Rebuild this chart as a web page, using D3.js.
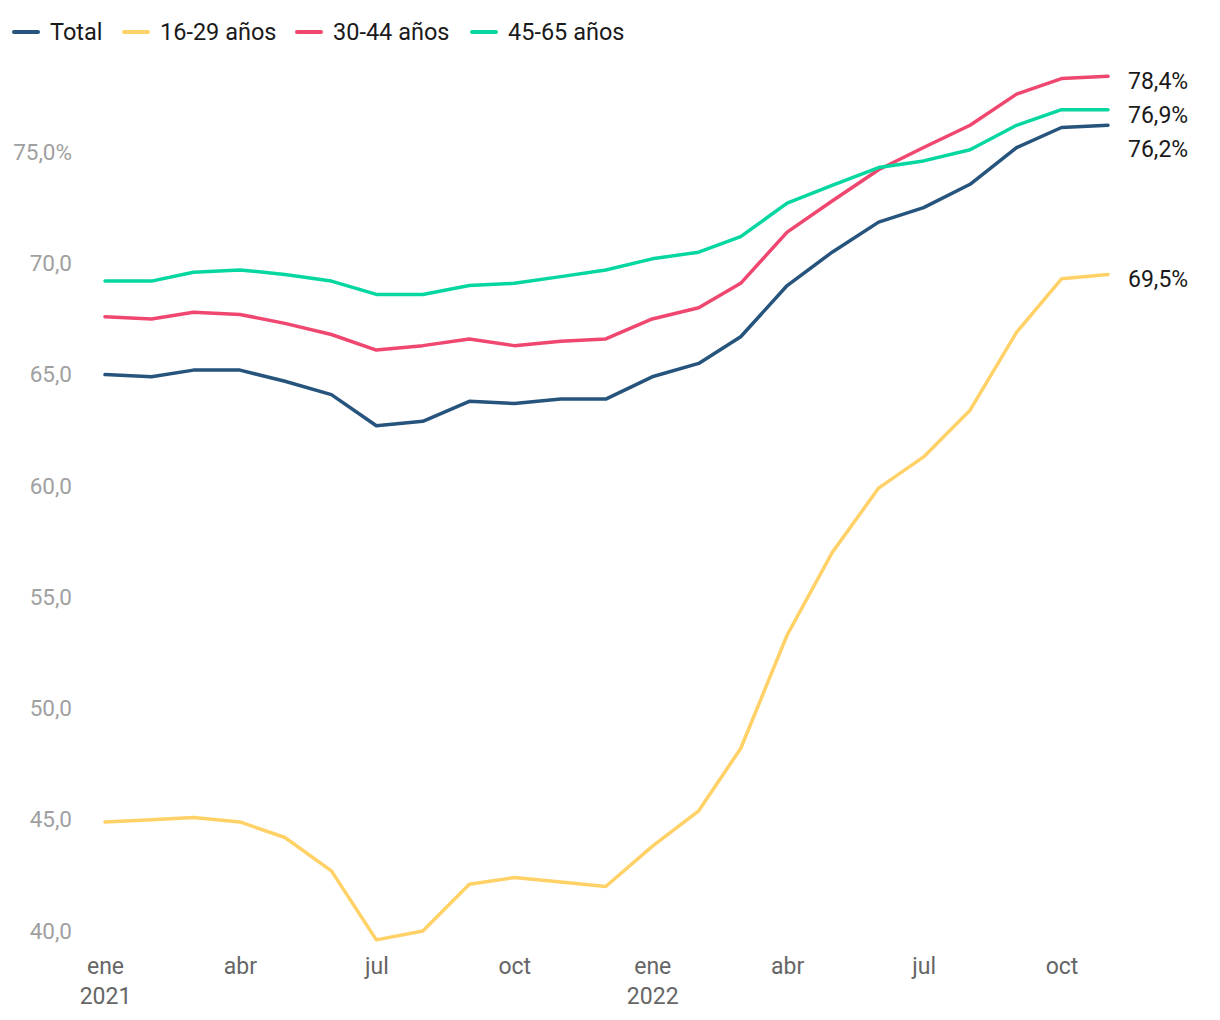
<!DOCTYPE html>
<html>
<head>
<meta charset="utf-8">
<script src="https://cdn.jsdelivr.net/npm/d3@7"></script>
<style>
    body { margin: 0; background: #fff; }
    svg text { font-family: Roboto, "Noto Sans", sans-serif; }
</style>
</head>
<body>
<div id="chart"></div>
<script>
// meses de ene 2021 a nov 2022
const months = ["2021-01", "2021-02", "2021-03", "2021-04", "2021-05", "2021-06", "2021-07", "2021-08",
    "2021-09", "2021-10", "2021-11", "2021-12", "2022-01", "2022-02", "2022-03", "2022-04",
    "2022-05", "2022-06", "2022-07", "2022-08", "2022-09", "2022-10", "2022-11"];

const total = [65.0, 64.9, 65.2, 65.2, 64.7, 64.1, 62.7, 62.9, 63.8, 63.7, 63.9, 63.9,
    64.9, 65.5, 66.7, 69.0, 70.5, 71.85, 72.5, 73.55, 75.2, 76.1, 76.2];
const age16to29 = [44.9, 45.0, 45.1, 44.9, 44.2, 42.7, 39.6, 40.0, 42.1, 42.4, 42.2, 42.0,
    43.8, 45.4, 48.2, 53.3, 57.0, 59.9, 61.3, 63.4, 66.9, 69.3, 69.5];
const age30to44 = [67.6, 67.5, 67.8, 67.7, 67.3, 66.8, 66.1, 66.3, 66.6, 66.3, 66.5, 66.6,
    67.5, 68.0, 69.1, 71.4, 72.8, 74.2, 75.2, 76.2, 77.6, 78.3, 78.4];
const age45to65 = [69.2, 69.2, 69.6, 69.7, 69.5, 69.2, 68.6, 68.6, 69.0, 69.1, 69.4, 69.7,
    70.2, 70.5, 71.2, 72.7, 73.5, 74.3, 74.6, 75.1, 76.2, 76.9, 76.9];

const seriesNames = ["Total", "16-29 años", "30-44 años", "45-65 años"];
const seriesColors = ["#26547c", "#ffd166", "#ef476f", "#06d6a0"];
const yTicks = [40, 45, 50, 55, 60, 65, 70, 75];
const monthNames = ["ene", "feb", "mar", "abr", "may", "jun", "jul", "ago", "sep", "oct", "nov", "dic"];

const W = 1220, H = 1020;
const parse = d3.timeParse("%Y-%m");
const dates = months.map(parse);
const comma = v => d3.format(".1f")(v).replace(".", ",");

const svg = d3.select("#chart").append("svg")
    .attr("width", W)
    .attr("height", H);

const x = d3.scaleTime()
    .domain(d3.extent(dates))
    .range([105, 1108]);

const y = d3.scaleLinear()
    .domain([40, 75])
    .range([931, 152]);

// eje y
const yAxis = svg.append("g")
    .attr("transform", "translate(72,0)")
    .call(d3.axisLeft(y).tickValues(yTicks).tickSize(0).tickPadding(0)
        .tickFormat(d => comma(d) + (d === 75 ? "%" : "")));
yAxis.select(".domain").remove();
yAxis.selectAll("text")
    .style("font-family", "Roboto, sans-serif")
    .style("font-size", "22.5px")
    .attr("fill", "#a0a0a0");

// eje x
const xTickDates = dates.filter(d => d.getMonth() % 3 === 0);
const xAxis = svg.append("g")
    .attr("transform", "translate(0,945)")
    .call(d3.axisBottom(x).tickValues(xTickDates).tickSize(0).tickPadding(0).tickFormat(""));
xAxis.select(".domain").remove();
xAxis.selectAll(".tick").each(function (d) {
    const t = d3.select(this).append("text")
        .attr("text-anchor", "middle")
        .attr("fill", "#666")
        .style("font-size", "23px");
    t.append("tspan").attr("x", 0).attr("y", 29).text(monthNames[d.getMonth()]);
    if (d.getMonth() === 0) {
        t.append("tspan").attr("x", 0).attr("y", 59).text(d.getFullYear());
    }
});

// lineas
const allSeries = [total, age16to29, age30to44, age45to65];
const line = d3.line()
    .x((d, i) => x(dates[i]))
    .y(d => y(d));

allSeries.forEach((vals, k) => {
    svg.append("path")
        .datum(vals)
        .attr("d", line)
        .attr("fill", "none")
        .attr("stroke", seriesColors[k])
        .attr("stroke-width", 3.5)
        .attr("stroke-linejoin", "round")
        .attr("stroke-linecap", "round");
});

// etiquetas al final, separadas para que no se pisen
const last = allSeries.map((vals, k) => ({ v: vals[vals.length - 1], color: seriesColors[k] }))
    .sort((a, b) => b.v - a.v);
let prevY = -Infinity;
last.forEach(d => {
    d.ly = Math.max(y(d.v) + 5, prevY + 34);
    prevY = d.ly;
});
svg.selectAll(".end-label")
    .data(last)
    .enter()
    .append("text")
    .attr("class", "end-label")
    .attr("x", 1128)
    .attr("y", d => d.ly)
    .attr("dy", "0.35em")
    .attr("fill", "#1a1a1a")
    .style("font-size", "23px")
    .text(d => comma(d.v) + "%");

// leyenda
const legendX = [12, 122, 295, 470];
const legend = svg.selectAll(".legend")
    .data(seriesNames)
    .enter()
    .append("g")
    .attr("class", "legend")
    .attr("transform", (d, i) => `translate(${legendX[i]},32)`);

legend.append("line")
    .attr("x1", 2).attr("x2", 26)
    .attr("stroke", (d, i) => seriesColors[i])
    .attr("stroke-width", 4)
    .attr("stroke-linecap", "round");

legend.append("text")
    .attr("x", 38)
    .attr("dy", "0.35em")
    .attr("fill", "#1a1a1a")
    .style("font-size", "23.5px")
    .text(d => d);
</script>
</body>
</html>
